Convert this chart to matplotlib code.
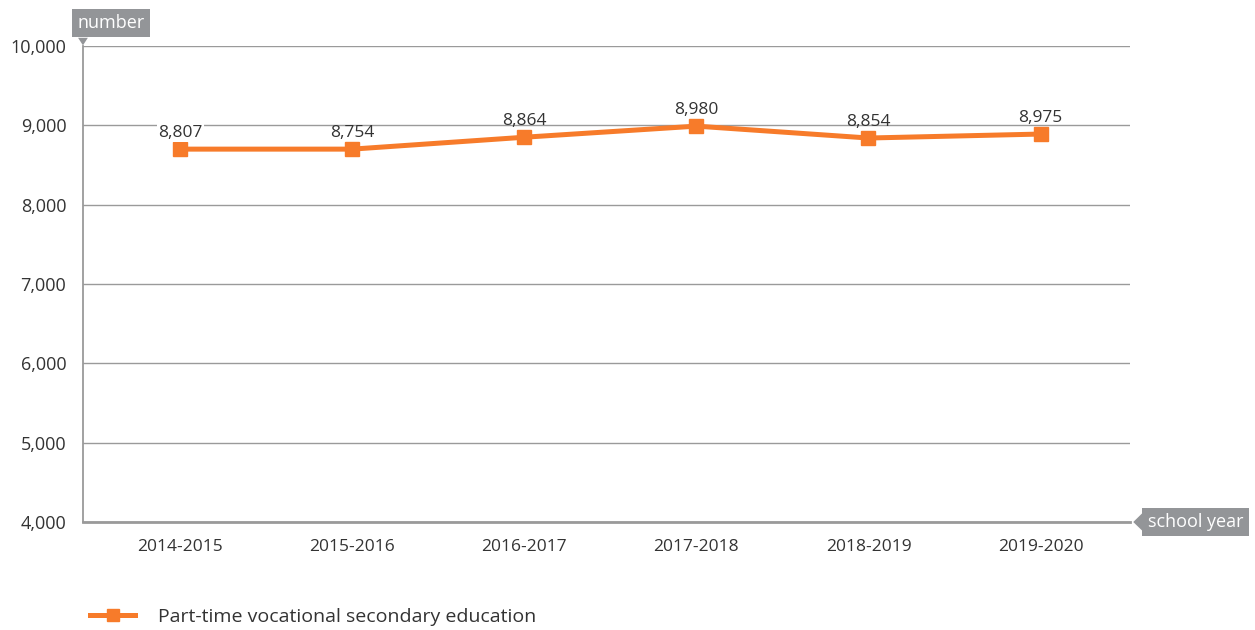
import matplotlib.pyplot as plt
from matplotlib.patches import Polygon

plt.rcParams['font.family'] = ['Open Sans', 'DejaVu Sans']

years = ['2014-2015', '2015-2016', '2016-2017', '2017-2018', '2018-2019', '2019-2020']
# heights as drawn in the reference (the printed labels differ slightly)
values = [8700, 8700, 8850, 8990, 8840, 8890]
value_labels = ['8,807', '8,754', '8,864', '8,980', '8,854', '8,975']
series_name = 'Part-time vocational secondary education'
yticks = [4000, 5000, 6000, 7000, 8000, 9000, 10000]

orange = '#F77B2A'
grey = '#939598'
text_col = '#333333'

fig = plt.figure(figsize=(12.55, 6.3), dpi=100)
ax = fig.add_axes([0.0661, 0.1714, 0.8343, 0.7556])

x = list(range(len(years)))
line, = ax.plot(x, values, color=orange, lw=3.6, marker='s', ms=10,
                solid_joinstyle='miter', label=series_name, zorder=3)

for i, (v, lab) in enumerate(zip(values, value_labels)):
    bbox = dict(fc='white', ec='none', pad=1) if i == 0 else None
    ax.annotate(lab, (i, v), xytext=(0, 6), textcoords='offset points',
                ha='center', va='bottom', fontsize=12.5, color=text_col,
                bbox=bbox, zorder=4)

ax.set_ylim(4000, 10000)
ax.set_xlim(-0.565, 5.52)
ax.set_yticks(yticks)
ax.set_yticklabels([f'{t:,}' for t in yticks])
ax.set_xticks(x)
ax.set_xticklabels(years)
ax.tick_params(axis='both', length=0, labelsize=12.5, labelcolor=text_col)
ax.tick_params(axis='y', labelsize=13)
ax.tick_params(axis='x', pad=12)
ax.tick_params(axis='y', pad=12)
ax.grid(axis='y', color='#9a9a9a', lw=1)
ax.set_axisbelow(True)
for s in ['top', 'right']:
    ax.spines[s].set_visible(False)
ax.spines['left'].set_color('#9a9a9a')
ax.spines['left'].set_linewidth(1.3)
ax.spines['bottom'].set_color('#9a9a9a')
ax.spines['bottom'].set_linewidth(2)

# axis title boxes
fig.text(0.0615, 0.9635, 'number', color='white', fontsize=13, va='center', ha='left',
         bbox=dict(fc=grey, ec='none', boxstyle='square,pad=0.3'))
fig.patches.append(Polygon([[0.0622, 0.940], [0.0700, 0.940], [0.0661, 0.928]],
                           closed=True, transform=fig.transFigure, fc=grey, ec='none'))
fig.text(0.9145, 0.1714, 'school year', color='white', fontsize=13, va='center', ha='left',
         bbox=dict(fc=grey, ec='none', boxstyle='square,pad=0.3'))
fig.patches.append(Polygon([[0.9030, 0.1714], [0.9110, 0.187], [0.9110, 0.156]],
                           closed=True, transform=fig.transFigure, fc=grey, ec='none'))

fig.legend(handles=[line], loc='center left', bbox_to_anchor=(0.058, 0.021),
           frameon=False, fontsize=14, handlelength=2.3, handletextpad=1.2,
           labelcolor=text_col, markerscale=0.85)

fig.savefig('out.png', dpi=100)
